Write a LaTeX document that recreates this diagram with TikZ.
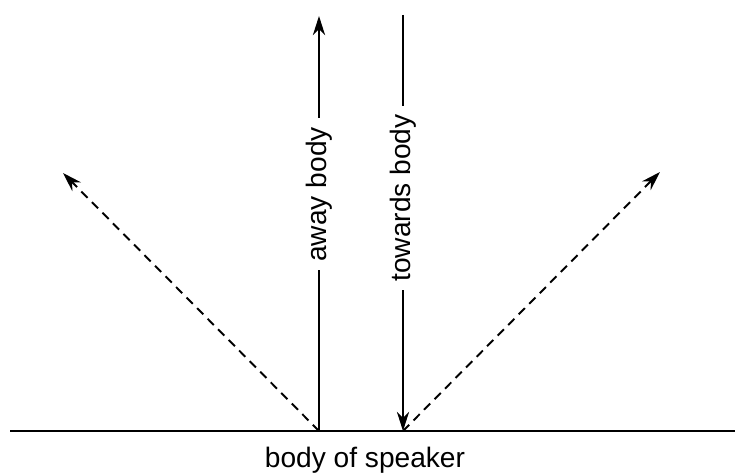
\documentclass[tikz,border=0pt]{standalone}
\usepackage{fontspec}
\setmainfont{Liberation Sans}
\usetikzlibrary{arrows.meta}

\begin{document}
\begin{tikzpicture}
          [x=0.02cm, y=-0.02cm, line width=1.1pt,
           every node/.style={font=\fontsize{16}{19}\selectfont, inner sep=5pt},
           tip/.style={-{Stealth[length=11pt, width=7pt]}},
           dashline/.style={dash pattern=on 5pt off 3.5pt}]

          \useasboundingbox (0,0) rectangle (735,475);

          \coordinate (leftend) at (10,431);
          \coordinate (rightend) at (735,431);
          \coordinate (up) at (319,431);
          \coordinate (down) at (403,431);
          \coordinate (uptop) at (319,16);
          \coordinate (downtop) at (403,15);
          \coordinate (lefttip) at (63,173);
          \coordinate (righttip) at (660,172);

          \draw (leftend) -- (rightend);
          \draw[tip] (up) -- node[pos=0.57, rotate=90, fill=white] (away) {away body} (uptop);
          \draw[tip] (downtop) -- node[pos=0.44, rotate=90, fill=white] (towards) {towards body} (down);
          \draw[tip, dashline] (up) -- (lefttip);
          \draw[tip, dashline] (down) -- (righttip);

          \node (speaker) at (365,460) {body of speaker};

        \end{tikzpicture}
\end{document}
